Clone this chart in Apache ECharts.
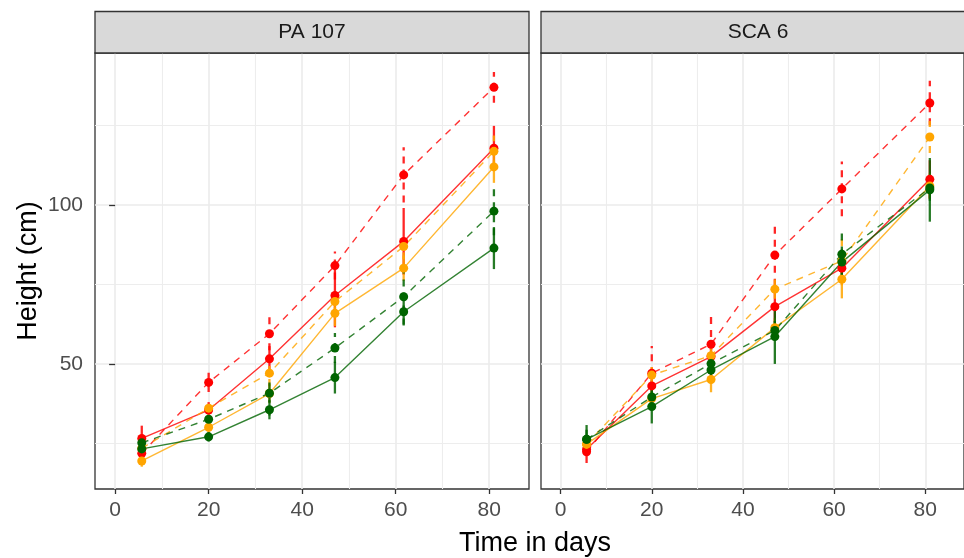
<!DOCTYPE html>
<html><head><meta charset="utf-8">
<script src="https://cdn.jsdelivr.net/npm/echarts@6/dist/echarts.min.js"></script>
<style>html,body{margin:0;padding:0;background:#fff}#c{width:964px;height:558px}</style>
</head><body><div id="c"></div>
<script>
// ---------- data ----------
const panels = ['PA 107', 'SCA 6'];
const days = [5.7, 20, 33, 47, 61.7, 81];
const xTicks = [0, 20, 40, 60, 80];
const xMinorTicks = [10, 30, 50, 70];
const yTicks = [50, 100];
const yMinorTicks = [25, 75, 125];

// PA 107 means
const pa_redSolid      = [26.6, 35.5, 51.6, 71.5, 88.5, 117.8];
const pa_redDashed     = [21.9, 44.2, 59.5, 80.9, 109.4, 136.9];
const pa_orangeSolid   = [19.5, 30.1, 40.7, 65.9, 80.1, 111.9];
const pa_orangeDashed  = [23.5, 36.1, 47.1, 69.6, 86.9, 116.8];
const pa_greenSolid    = [23.3, 27.1, 35.6, 45.7, 66.4, 86.4];
const pa_greenDashed   = [25.2, 32.6, 40.8, 55.0, 71.1, 98.0];
// PA 107 error half-widths
const pa_redSolidErr     = [4, 2.5, 4, 10, 10.5, 7];
const pa_redDashedErr    = [3, 3, 5.2, 4.4, 8.7, 4.8];
const pa_orangeSolidErr  = [1.8, 2, 3, 4, 4, 5];
const pa_orangeDashedErr = [2, 2, 4, 4, 4, 5];
const pa_greenSolidErr   = [2, 1.5, 3, 5, 4, 6.6];
const pa_greenDashedErr  = [2, 2, 7, 4.7, 9, 7.6];

// SCA 6 means
const sca_redSolid      = [23.2, 43.1, 52.3, 68.0, 80.1, 108.0];
const sca_redDashed     = [22.4, 47.1, 56.2, 84.2, 105.0, 132.0];
const sca_orangeSolid   = [24.8, 39.1, 45.1, 61.4, 76.6, 105.9];
const sca_orangeDashed  = [24.8, 46.5, 52.6, 73.5, 82.4, 121.3];
const sca_greenSolid    = [26.3, 36.6, 48.1, 58.6, 82.0, 104.7];
const sca_greenDashed   = [26.3, 39.6, 50.1, 60.5, 84.5, 105.3];
// SCA 6 error half-widths
const sca_redSolidErr     = [2, 3, 3, 5, 4, 6];
const sca_redDashedErr    = [3.5, 8.5, 10, 9.6, 8.6, 7];
const sca_orangeSolidErr  = [2, 2.5, 4, 3, 6, 4];
const sca_orangeDashedErr = [2, 2.5, 3, 3, 7.7, 5];
const sca_greenSolidErr   = [4.5, 5.3, 2, 8.6, 4, 10];
const sca_greenDashedErr  = [3, 3, 2, 3, 8, 4];

// ---------- styles ----------
const RED = '#FF0000', ORANGE = '#FFA500', GREEN = '#006400';
const FONT = 'Liberation Sans, Arial, sans-serif';
const DASH = [7, 6];

const groups = [
  [
    {name:'red solid', color:RED, dashed:false, v:pa_redSolid, e:pa_redSolidErr},
    {name:'red dashed', color:RED, dashed:true, v:pa_redDashed, e:pa_redDashedErr},
    {name:'orange solid', color:ORANGE, dashed:false, v:pa_orangeSolid, e:pa_orangeSolidErr},
    {name:'orange dashed', color:ORANGE, dashed:true, v:pa_orangeDashed, e:pa_orangeDashedErr},
    {name:'green solid', color:GREEN, dashed:false, v:pa_greenSolid, e:pa_greenSolidErr},
    {name:'green dashed', color:GREEN, dashed:true, v:pa_greenDashed, e:pa_greenDashedErr}
  ],
  [
    {name:'red solid', color:RED, dashed:false, v:sca_redSolid, e:sca_redSolidErr},
    {name:'red dashed', color:RED, dashed:true, v:sca_redDashed, e:sca_redDashedErr},
    {name:'orange solid', color:ORANGE, dashed:false, v:sca_orangeSolid, e:sca_orangeSolidErr},
    {name:'orange dashed', color:ORANGE, dashed:true, v:sca_orangeDashed, e:sca_orangeDashedErr},
    {name:'green solid', color:GREEN, dashed:false, v:sca_greenSolid, e:sca_greenSolidErr},
    {name:'green dashed', color:GREEN, dashed:true, v:sca_greenDashed, e:sca_greenDashedErr}
  ]
];

const X_MIN = -4.3, X_MAX = 88.5, Y_MIN = 10.7, Y_MAX = 147.7;
const gridLefts = [95, 541];
const GRID_TOP = 53, GRID_W = 434, GRID_H = 436;

const grids = [], xAxes = [], yAxes = [], series = [], graphics = [];

panels.forEach((pname, p) => {
  grids.push({left: gridLefts[p], top: GRID_TOP, width: GRID_W, height: GRID_H,
    show: true, borderColor: '#333333', borderWidth: 1.3, backgroundColor: 'transparent'});
  // major x
  xAxes.push({type:'value', gridIndex:p, min:X_MIN, max:X_MAX,
    axisLine:{show:false},
    axisTick:{show:true, length:5, customValues:xTicks, lineStyle:{color:'#333333', width:1.3}},
    axisLabel:{customValues:xTicks, fontSize:21, color:'#4D4D4D', margin:11, fontFamily:FONT},
    splitLine:{show:true, lineStyle:{color:'#EBEBEB', width:1.6}}, z:1});
  // minor x
  xAxes.push({type:'value', gridIndex:p, min:X_MIN, max:X_MAX,
    axisLine:{show:false}, axisTick:{show:false, customValues:xMinorTicks},
    axisLabel:{show:false, customValues:xMinorTicks},
    splitLine:{show:true, lineStyle:{color:'#EDEDED', width:1.1}}, z:0});
  // major y
  yAxes.push({type:'value', gridIndex:p, min:Y_MIN, max:Y_MAX,
    axisLine:{show:false},
    axisTick:{show:p===0, length:6, customValues:yTicks, lineStyle:{color:'#333333', width:1.3}},
    axisLabel:{show:p===0, customValues:yTicks, fontSize:21, color:'#4D4D4D', margin:12, fontFamily:FONT},
    splitLine:{show:true, lineStyle:{color:'#EBEBEB', width:1.6}}, z:1});
  // minor y
  yAxes.push({type:'value', gridIndex:p, min:Y_MIN, max:Y_MAX,
    axisLine:{show:false}, axisTick:{show:false, customValues:yMinorTicks},
    axisLabel:{show:false, customValues:yMinorTicks},
    splitLine:{show:true, lineStyle:{color:'#EDEDED', width:1.1}}, z:0});

  const xi = 2*p, yi = 2*p;
  groups[p].forEach(g => {
    series.push({type:'line', name:g.name, xAxisIndex:xi, yAxisIndex:yi,
      data: days.map((d,i)=>[d, g.v[i]]), showSymbol:false, symbol:'none',
      lineStyle:{color:g.color, width:1.4, type: g.dashed ? DASH : 'solid', opacity:0.8},
      z:3, silent:true});
    series.push({type:'custom', name:g.name, xAxisIndex:xi, yAxisIndex:yi,
      data: days.map((d,i)=>[d, g.v[i]-g.e[i], g.v[i]+g.e[i]]),
      encode:{x:0, y:[1,2]},
      renderItem:(params, api) => {
        const a = api.coord([api.value(0), api.value(1)]);
        const b = api.coord([api.value(0), api.value(2)]);
        return {type:'line', shape:{x1:a[0], y1:a[1], x2:b[0], y2:b[1]},
          style:{stroke:g.color, lineWidth:2.3, lineDash: g.dashed ? DASH : null, opacity:0.85}};
      }, z:4, silent:true});
    series.push({type:'scatter', name:g.name, xAxisIndex:xi, yAxisIndex:yi,
      data: days.map((d,i)=>[d, g.v[i]]), symbol:'circle', symbolSize:9,
      itemStyle:{color:g.color, opacity:1}, z:5, silent:true});
  });

  // strip
  graphics.push({type:'rect', shape:{x:gridLefts[p], y:11.5, width:GRID_W, height:41.5},
    style:{fill:'#D9D9D9', stroke:'#333333', lineWidth:1.3}, z:10});
  graphics.push({type:'text', x:gridLefts[p] + GRID_W/2, y:32.5,
    style:{text:pname, fontSize:21, fontFamily:FONT, fill:'#1A1A1A', align:'center', verticalAlign:'middle'}, z:11});
});

graphics.push({type:'text', x:535, y:544,
  style:{text:'Time in days', fontSize:27, fontFamily:FONT, fill:'#000000', align:'center', verticalAlign:'middle'}});
graphics.push({type:'text', x:29, y:271, rotation:Math.PI/2,
  style:{text:'Height (cm)', fontSize:27, fontFamily:FONT, fill:'#000000', align:'center', verticalAlign:'middle'}});

const chart = echarts.init(document.getElementById('c'), null, {renderer:'canvas'});
chart.setOption({
  animation:false,
  backgroundColor:'#FFFFFF',
  textStyle:{fontFamily:FONT},
  grid:grids, xAxis:xAxes, yAxis:yAxes, series:series, graphic:graphics
});
</script></body></html>
